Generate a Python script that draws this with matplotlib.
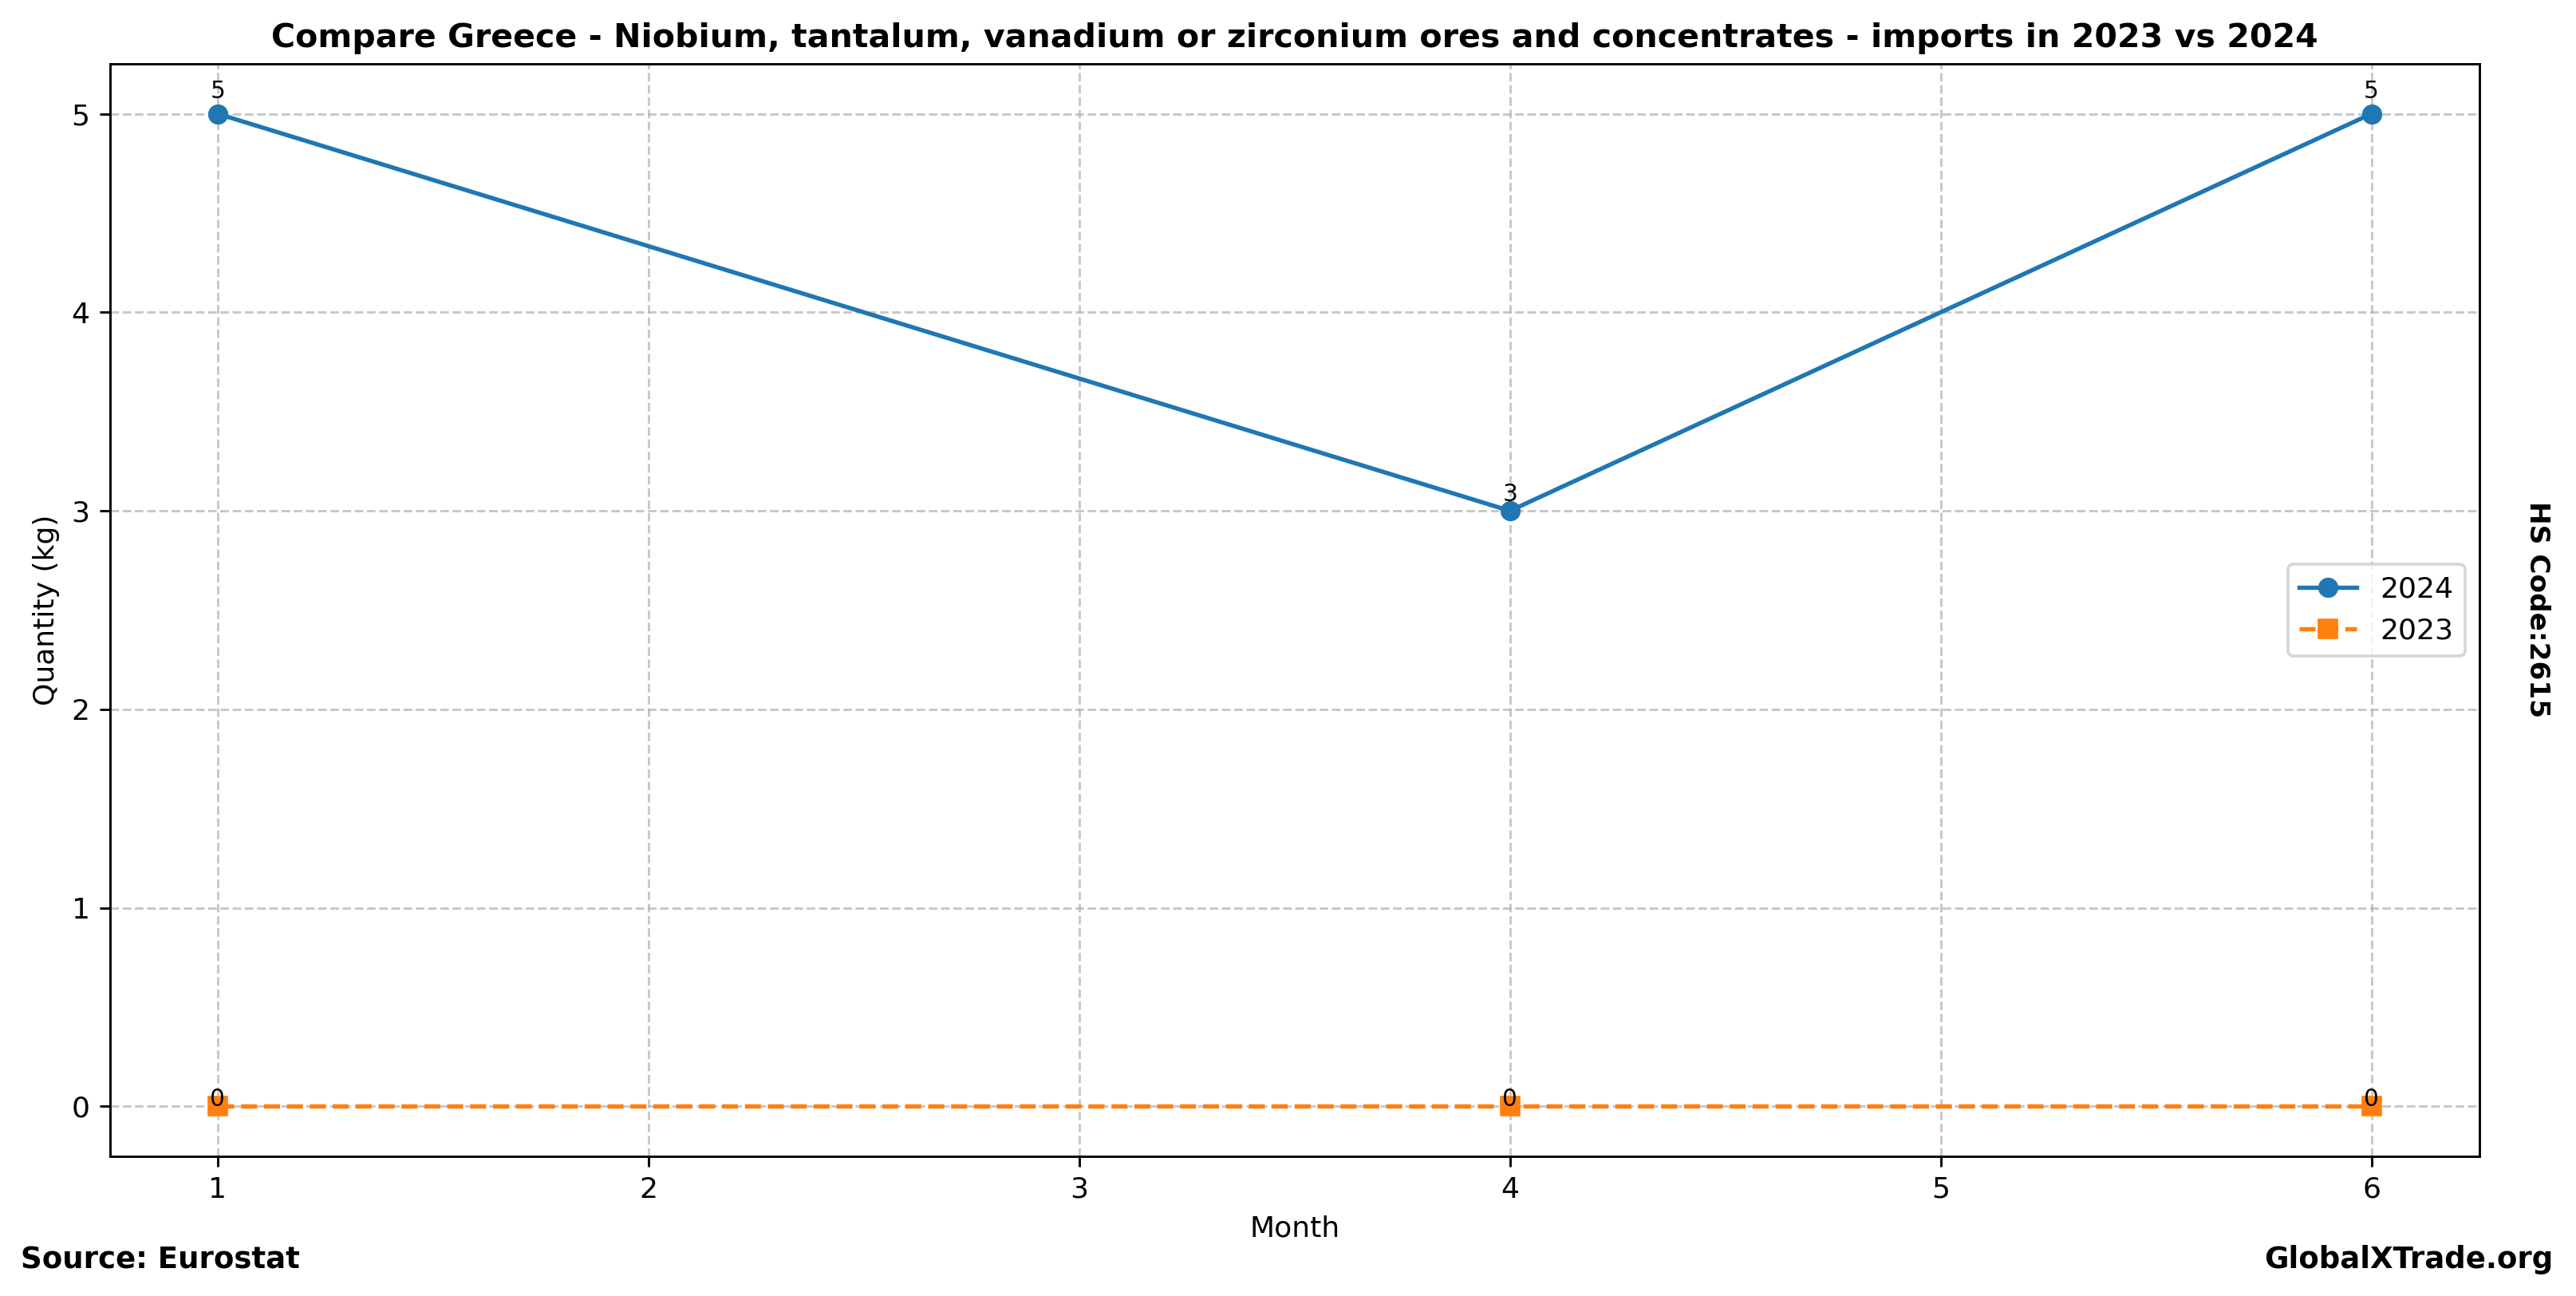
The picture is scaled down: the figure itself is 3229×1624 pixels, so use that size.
import matplotlib
matplotlib.use("Agg")
import matplotlib.pyplot as plt

months = [1, 4, 6]
values_2024 = [5, 3, 5]
values_2023 = [0, 0, 0]
title = "Compare Greece - Niobium, tantalum, vanadium or zirconium ores and concentrates - imports in 2023 vs 2024"

DPI = 260
fig = plt.figure(figsize=(3229 / DPI, 1624 / DPI), dpi=DPI)
ax = fig.add_axes([0.0427, 0.108, 0.9197, 0.8425])

ax.plot(months, values_2024, marker='o', linestyle='-', color='#1f77b4', markersize=6, linewidth=1.5, label='2024')
ax.plot(months, values_2023, marker='s', linestyle='--', color='#ff7f0e', markersize=6, linewidth=1.5, label='2023')

for x, y in zip(months, values_2024):
    ax.text(x, y * 1.016, str(y), ha='center', va='baseline', fontsize=8.2)
for x, y in zip(months, values_2023):
    ax.text(x, y * 1.016, str(y), ha='center', va='baseline', fontsize=8.2)

ax.set_title(title, fontsize=11.4, fontweight='bold')
ax.set_xlabel('Month', fontsize=10)
ax.set_ylabel('Quantity (kg)', fontsize=10)
ax.tick_params(labelsize=10)
ax.grid(True, linestyle='--', alpha=0.7)
ax.legend(loc='center right', fontsize=10)

fig.text(0.008, 0.028, 'Source: Eurostat', fontsize=10.3, fontweight='bold', ha='left', va='center')
fig.text(0.991, 0.028, 'GlobalXTrade.org', fontsize=10.3, fontweight='bold', ha='right', va='center')
fig.text(0.985, 0.53, 'HS Code:2615', fontsize=9.5, fontweight='bold', rotation=270, ha='center', va='center')

fig.savefig('out.png', dpi=DPI)
